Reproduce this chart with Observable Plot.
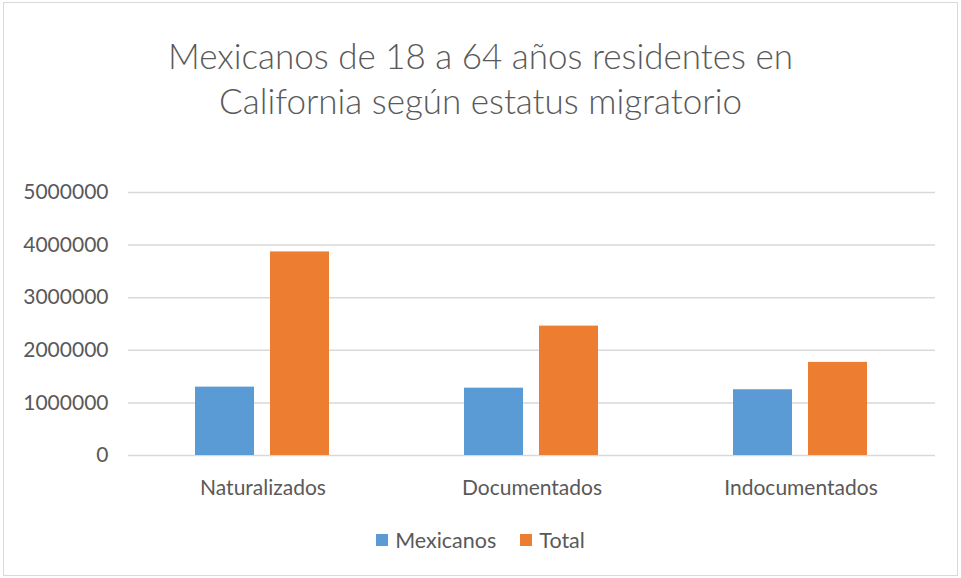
<!DOCTYPE html>
<html>
<head>
<meta charset="utf-8">
<script src="https://cdn.jsdelivr.net/npm/d3@7"></script>
<script src="https://cdn.jsdelivr.net/npm/@observablehq/plot@0.6"></script>
<style>
  html, body { margin: 0; padding: 0; background: #fff; }
  #wrap { position: relative; width: 961px; height: 578px; overflow: hidden; font-family: Lato, "Open Sans", sans-serif; color: #595959; }
  #frame { position: absolute; left: 3px; top: 2px; width: 953px; height: 572px; border: 1px solid #d9d9d9; pointer-events: none; }
  #title { height: 150px; box-sizing: border-box; padding-top: 33px; text-align: center; font-size: 35px; line-height: 45px; font-weight: 300; color: #595959; }
  #chart svg { display: block; }
  #legend { display: flex; justify-content: center; align-items: center; padding-top: 13px; line-height: 24px; font-size: 21.5px; color: #595959; }
  .item { display: flex; align-items: center; margin: 0 12px; }
  .sw { width: 12px; height: 12px; margin-right: 7px; display: inline-block; }
</style>
</head>
<body>
<div id="wrap">
  <div id="frame"></div>
  <div id="title">Mexicanos de 18 a 64 años residentes en<br>California según estatus migratorio</div>
  <div id="chart"></div>
  <div id="legend"></div>
</div>
<script>
const categories = ["Naturalizados", "Documentados", "Indocumentados"];
const series = ["Mexicanos", "Total"];
const mexicanos = [1300000, 1280000, 1250000];
const total = [3870000, 2460000, 1770000];
const yTicks = [0, 1000000, 2000000, 3000000, 4000000, 5000000];
const colors = ["#5B9BD5", "#ED7D31"];

const data = [];
categories.forEach((c, i) => {
  data.push({cat: c, serie: series[0], value: mexicanos[i]});
  data.push({cat: c, serie: series[1], value: total[i]});
});

const plot = Plot.plot({
  width: 961,
  height: 365,
  marginTop: 42,
  marginBottom: 60,
  marginLeft: 128,
  marginRight: 26,
  style: {fontFamily: "Lato, 'Open Sans', sans-serif", fontSize: "21px", color: "#595959", background: "transparent"},
  fx: {domain: categories, padding: 0, label: null, axis: "bottom", tickSize: 0, tickPadding: 25},
  x: {domain: series, paddingInner: 0.2105, paddingOuter: 0.875, axis: null},
  y: {domain: [0, 5000000], axis: null},
  color: {domain: series, range: colors},
  marks: [
    Plot.gridY(yTicks, {stroke: "#d9d9d9", strokeOpacity: 1, strokeWidth: 1.5}),
    Plot.barY(data, {fx: "cat", x: "serie", y: "value", fill: "serie"}),
    Plot.axisY(yTicks, {tickSize: 0, tickPadding: 20, tickFormat: d => String(d), fontSize: 21, fill: "#595959", label: null})
  ]
});
document.getElementById("chart").appendChild(plot);

const legend = document.getElementById("legend");
series.forEach((s, i) => {
  const it = document.createElement("div");
  it.className = "item";
  const sw = document.createElement("span");
  sw.className = "sw";
  sw.style.background = colors[i];
  it.appendChild(sw);
  it.appendChild(document.createTextNode(s));
  legend.appendChild(it);
});
</script>
</body>
</html>
